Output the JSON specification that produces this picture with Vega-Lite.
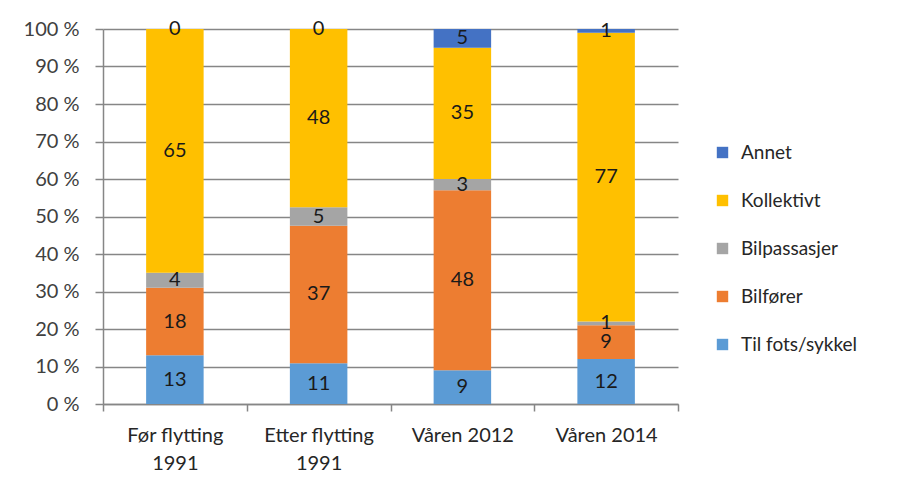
{
  "$schema": "https://vega.github.io/schema/vega-lite/v6.json",
  "width": 575,
  "height": 375,
  "autosize": {"type": "none"},
  "padding": {"left": 103, "top": 29, "right": 235, "bottom": 98},
  "background": "white",
  "config": {
    "font": "Lato",
    "view": {"stroke": null},
    "axis": {"labelFont": "Lato", "labelColor": "#404040", "labelFontSize": 20}
  },
  "data": {
    "values": [
      {"cat": "Før flytting|1991", "mode": "Til fots/sykkel", "o": 1, "value": 13},
      {"cat": "Før flytting|1991", "mode": "Bilfører", "o": 2, "value": 18},
      {"cat": "Før flytting|1991", "mode": "Bilpassasjer", "o": 3, "value": 4},
      {"cat": "Før flytting|1991", "mode": "Kollektivt", "o": 4, "value": 65},
      {"cat": "Før flytting|1991", "mode": "Annet", "o": 5, "value": 0},
      {"cat": "Etter flytting|1991", "mode": "Til fots/sykkel", "o": 1, "value": 11},
      {"cat": "Etter flytting|1991", "mode": "Bilfører", "o": 2, "value": 37},
      {"cat": "Etter flytting|1991", "mode": "Bilpassasjer", "o": 3, "value": 5},
      {"cat": "Etter flytting|1991", "mode": "Kollektivt", "o": 4, "value": 48},
      {"cat": "Etter flytting|1991", "mode": "Annet", "o": 5, "value": 0},
      {"cat": "Våren 2012", "mode": "Til fots/sykkel", "o": 1, "value": 9},
      {"cat": "Våren 2012", "mode": "Bilfører", "o": 2, "value": 48},
      {"cat": "Våren 2012", "mode": "Bilpassasjer", "o": 3, "value": 3},
      {"cat": "Våren 2012", "mode": "Kollektivt", "o": 4, "value": 35},
      {"cat": "Våren 2012", "mode": "Annet", "o": 5, "value": 5},
      {"cat": "Våren 2014", "mode": "Til fots/sykkel", "o": 1, "value": 12},
      {"cat": "Våren 2014", "mode": "Bilfører", "o": 2, "value": 9},
      {"cat": "Våren 2014", "mode": "Bilpassasjer", "o": 3, "value": 1},
      {"cat": "Våren 2014", "mode": "Kollektivt", "o": 4, "value": 77},
      {"cat": "Våren 2014", "mode": "Annet", "o": 5, "value": 1}
    ]
  },
  "transform": [
    {"stack": "value", "groupby": ["cat"], "sort": [{"field": "o", "order": "ascending"}], "offset": "normalize", "as": ["y0", "y1"]},
    {"calculate": "(datum.y0 + datum.y1) / 2", "as": "mid"}
  ],
  "encoding": {
    "x": {
      "field": "cat",
      "type": "nominal",
      "sort": ["Før flytting|1991", "Etter flytting|1991", "Våren 2012", "Våren 2014"],
      "scale": {"paddingInner": 0, "paddingOuter": 0},
      "axis": {
        "title": null,
        "labelAngle": 0,
        "labelExpr": "split(datum.label, '|')",
        "labelLineHeight": 28,
        "labelPadding": 14,
        "labelOverlap": false,
        "tickBand": "extent",
        "tickSize": 7,
        "tickColor": "#868686",
        "tickWidth": 1.5,
        "domainColor": "#868686",
        "domainWidth": 1.5,
        "labelColor": "#262626"
      }
    }
  },
  "layer": [
    {
      "mark": {"type": "bar", "width": {"band": 0.4}},
      "encoding": {
        "y": {
          "field": "y0",
          "type": "quantitative",
          "scale": {"domain": [0, 1]},
          "axis": {
            "title": null,
            "values": [0, 0.1, 0.2, 0.3, 0.4, 0.5, 0.6, 0.7, 0.8, 0.9, 1],
            "labelExpr": "round(datum.value * 100) + ' %'",
            "labelOverlap": false,
            "grid": true,
            "gridColor": "#868686",
            "gridWidth": 1.5,
            "tickSize": 8,
            "tickColor": "#868686",
            "tickWidth": 1.5,
            "domainColor": "#868686",
            "domainWidth": 1.5,
            "labelPadding": 16,
            "labelColor": "#404040"
          }
        },
        "y2": {"field": "y1"},
        "color": {
          "field": "mode",
          "type": "nominal",
          "scale": {
            "domain": ["Annet", "Kollektivt", "Bilpassasjer", "Bilfører", "Til fots/sykkel"],
            "range": ["#4472C4", "#FFC000", "#A5A5A5", "#ED7D31", "#5B9BD5"]
          },
          "legend": {
            "title": null,
            "orient": "none",
            "legendX": 610,
            "legendY": 114,
            "symbolType": "square",
            "symbolSize": 130,
            "symbolStrokeWidth": 0,
            "labelFont": "Lato",
            "labelFontSize": 19,
            "labelColor": "#262626",
            "labelOffset": 9,
            "rowPadding": 28
          }
        }
      }
    },
    {
      "mark": {"type": "text", "fontSize": 20, "color": "#1a1a1a", "baseline": "middle", "align": "center"},
      "encoding": {
        "y": {
          "field": "mid",
          "type": "quantitative",
          "axis": {
            "title": null,
            "values": [0, 0.1, 0.2, 0.3, 0.4, 0.5, 0.6, 0.7, 0.8, 0.9, 1],
            "labelExpr": "round(datum.value * 100) + ' %'",
            "labelOverlap": false,
            "grid": true,
            "gridColor": "#868686",
            "gridWidth": 1.5,
            "tickSize": 8,
            "tickColor": "#868686",
            "tickWidth": 1.5,
            "domainColor": "#868686",
            "domainWidth": 1.5,
            "labelPadding": 16,
            "labelColor": "#404040"
          }
        },
        "text": {"field": "value", "type": "quantitative"}
      }
    }
  ]
}
